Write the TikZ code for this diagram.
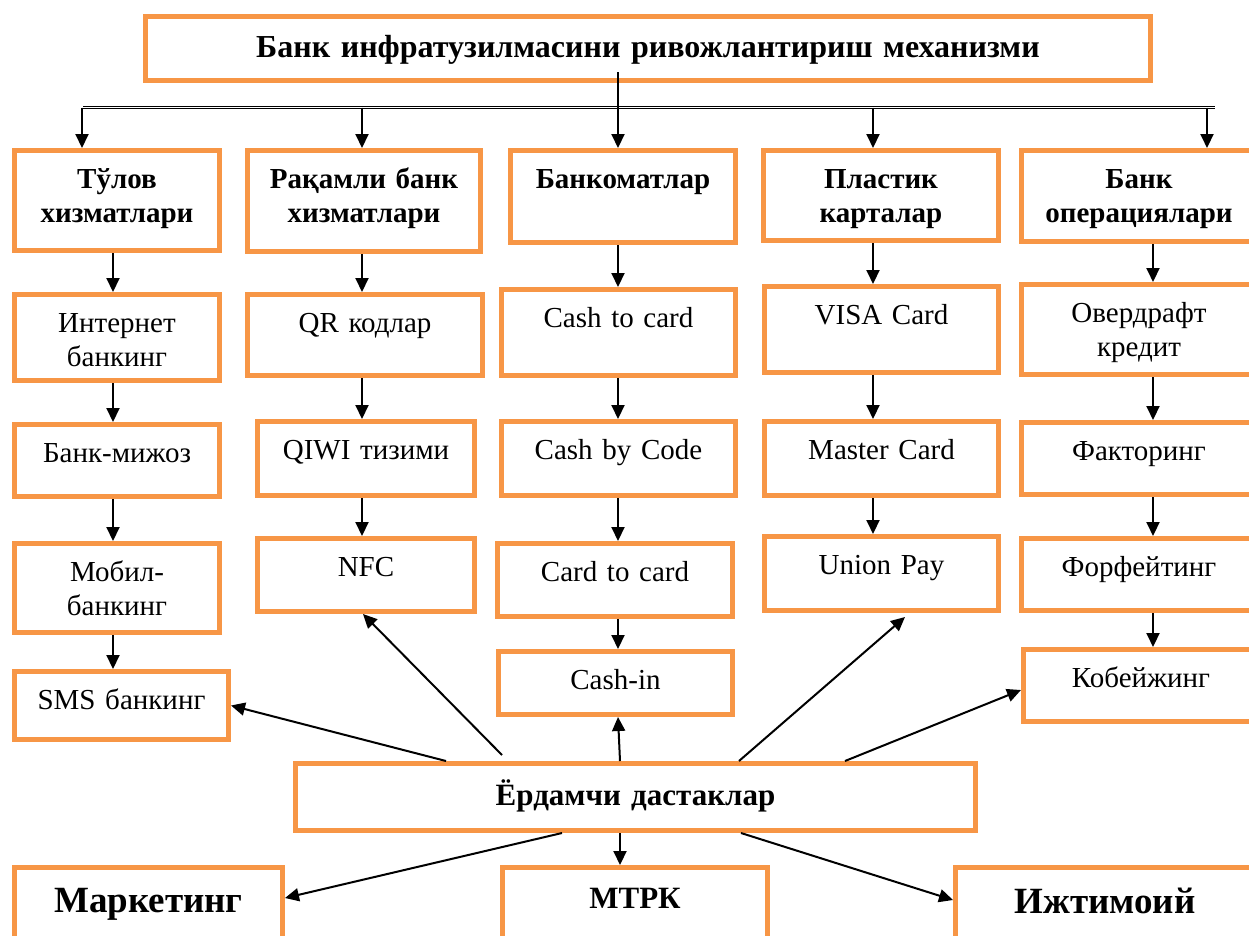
\documentclass[tikz,border=0pt]{standalone}
\usepackage{fontspec}
\setmainfont{Liberation Serif}
\usetikzlibrary{arrows.meta}

\definecolor{boxorange}{RGB}{247,150,70}

\tikzset{
  box/.style={draw=boxorange,line width=5pt,fill=white,inner sep=0pt,
    anchor=north,align=center,text height=37.5pt,
    font=\fontsize{29}{34}\selectfont},
  headbox/.style={box,font=\bfseries\fontsize{29}{34}\selectfont},
  bigbox/.style={box,font=\bfseries\fontsize{37}{42}\selectfont},
  dims/.style 2 args={text width=#1,text depth=#2},
  arr/.style={line width=2pt,-{Triangle[length=14pt,width=13pt]}},
  bar/.style={line width=1.1pt,double,double distance=1.4pt},
}

\begin{document}
\begin{tikzpicture}[x=1pt,y=-1pt]
\useasboundingbox (0,0) rectangle (1249,935);
\fill[white] (0,0) rectangle (1249,935);
\clip (0,0) rectangle (1249,935);

% title
\node[headbox,dims={1005pt}{23.5pt},text height=40.5pt,
  font=\bfseries\fontsize{32}{38}\selectfont] (title) at (648,14)
  {Банк инфратузилмасини ривожлантириш механизми};

% first level
\node[headbox,dims={205pt}{62.5pt}] (h1) at (117,148) {Тўлов\\хизматлари};
\node[headbox,dims={233pt}{63.5pt}] (h2) at (364,148) {Рақамли банк\\хизматлари};
\node[headbox,dims={225pt}{54.5pt}] (h3) at (623,148) {Банкоматлар};
\node[headbox,dims={235pt}{52.5pt}] (h4) at (881,148) {Пластик\\карталар};
\node[headbox,dims={235pt}{53.5pt}] (h5) at (1139,148) {Банк\\операциялари};

% payment services
\node[box,dims={205pt}{48.5pt}] (p1) at (117,292) {Интернет\\банкинг};
\node[box,dims={205pt}{34.5pt}] (p2) at (117,422) {Банк-мижоз};
\node[box,dims={205pt}{51.5pt}] (p3) at (117,541) {Мобил-\\банкинг};
\node[box,dims={214pt}{30.5pt}] (p4) at (121.5,669) {SMS банкинг};

% digital services
\node[box,dims={235pt}{43.5pt}] (d1) at (365,292) {QR кодлар};
\node[box,dims={217pt}{36.5pt}] (d2) at (366,419) {QIWI тизими};
\node[box,dims={217pt}{35.5pt}] (d3) at (366,536) {NFC};

% ATMs
\node[box,dims={234pt}{48.5pt}] (a1) at (618.5,287) {Cash to card};
\node[box,dims={234pt}{36.5pt}] (a2) at (618.5,419) {Cash by Code};
\node[box,dims={235pt}{35.5pt}] (a3) at (615,541) {Card to card};
\node[box,dims={234pt}{25.5pt}] (a4) at (615.5,649) {Cash-in};

% cards
\node[box,dims={234pt}{48.5pt}] (c1) at (881.5,284) {VISA Card};
\node[box,dims={234pt}{36.5pt}] (c2) at (881.5,419) {Master Card};
\node[box,dims={234pt}{36.5pt}] (c3) at (881.5,534) {Union Pay};

% operations
\node[box,dims={235pt}{52.5pt}] (o1) at (1139,282) {Овердрафт\\кредит};
\node[box,dims={235pt}{34.5pt}] (o2) at (1139,420) {Факторинг};
\node[box,dims={235pt}{34.5pt}] (o3) at (1139,536) {Форфейтинг};
\node[box,dims={235pt}{34.5pt}] (o4) at (1141,647) {Кобейжинг};

% support
\node[headbox,dims={680pt}{25.5pt},text height=41.5pt,
  font=\bfseries\fontsize{31}{36}\selectfont] (e) at (635.5,761) {Ёрдамчи дастаклар};
\node[bigbox,dims={268pt}{60pt},text height=44.5pt] (mk) at (148.5,865) {Маркетинг};
\node[headbox,dims={265pt}{60pt},text height=40.5pt,
  font=\bfseries\fontsize{31}{36}\selectfont] (mt) at (635,865) {МТРК};
\node[bigbox,dims={299pt}{60pt},text height=45.5pt] (ij) at (1105,865) {Ижтимоий};

% distribution bar
\coordinate (barL) at (83,107.5);
\coordinate (barR) at (1215,107.5);
\coordinate (t1) at (82,107.5);
\coordinate (t2) at (362,107.5);
\coordinate (t3) at (618,72);
\coordinate (t4) at (873,107.5);
\coordinate (t5) at (1207,107.5);
\draw[bar] (barL) -- (barR);
\draw[arr] (t3) -- (t3 |- h3.north);
\foreach \s/\h in {t1/h1,t2/h2,t4/h4,t5/h5}
  \draw[arr] (\s) -- (\s |- \h.north);

% column arrows
\coordinate (k1) at (113,0);
\coordinate (k2) at (362,0);
\coordinate (k3) at (618,0);
\coordinate (k4) at (873,0);
\coordinate (k5) at (1153,0);
\foreach \cx/\up/\dn in {k1/h1/p1,k1/p1/p2,k1/p2/p3,k1/p3/p4,
    k2/h2/d1,k2/d1/d2,k2/d2/d3,
    k3/h3/a1,k3/a1/a2,k3/a2/a3,k3/a3/a4,
    k4/h4/c1,k4/c1/c2,k4/c2/c3,
    k5/h5/o1,k5/o1/o2,k5/o2/o3,k5/o3/o4}
  \draw[arr] (\cx |- \up.south) -- (\cx |- \dn.north);

% support links
\draw[arr] ([xshift=-189.5pt]e.north) -- (p4.east);
\draw[arr] ([xshift=-133.5pt,yshift=6pt]e.north) -- ([xshift=-3pt]d3.south);
\draw[arr] ([xshift=-15.5pt]e.north) -- ([xshift=2.5pt]a4.south);
\draw[arr] ([xshift=103.5pt]e.north) -- ([xshift=23.5pt,yshift=-4pt]c3.south);
\draw[arr] ([xshift=209.5pt]e.north) -- ([yshift=-4.5pt]o4.west);
\draw[arr] ([xshift=-73.5pt]e.south) -- ([yshift=-33pt]mk.north east);
\draw[arr] ([xshift=-15.5pt]e.south) -- ([xshift=-15pt]mt.north);
\draw[arr] ([xshift=105.5pt]e.south) -- ([yshift=-35pt]ij.north west);
\end{tikzpicture}
\end{document}
